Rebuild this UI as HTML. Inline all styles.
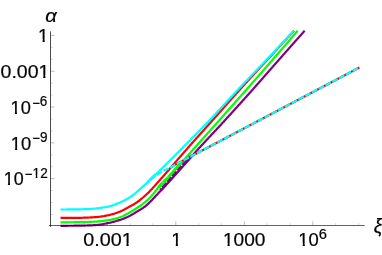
<!DOCTYPE html>
<html><head><meta charset="utf-8"><title>plot</title>
<style>
html,body{margin:0;padding:0;background:#fff;}
body{width:382px;height:255px;overflow:hidden;font-family:"Liberation Sans",sans-serif;}
svg{display:block}
</style></head><body>
<svg width="382" height="255" viewBox="0 0 382 255" style="will-change:transform">
<path d="M60.50,217.95 L61.25,217.95 L62.00,217.95 L62.75,217.95 L63.50,217.95 L64.25,217.94 L65.00,217.94 L65.75,217.94 L66.49,217.93 L67.24,217.93 L67.99,217.92 L68.74,217.92 L69.49,217.91 L70.24,217.91 L70.99,217.90 L71.74,217.89 L72.49,217.89 L73.24,217.88 L73.98,217.87 L74.73,217.86 L75.48,217.86 L76.23,217.85 L76.98,217.84 L77.73,217.83 L78.48,217.82 L79.23,217.81 L79.98,217.80 L80.72,217.79 L81.47,217.78 L82.22,217.76 L82.97,217.74 L83.72,217.72 L84.47,217.70 L85.22,217.67 L85.97,217.65 L86.72,217.62 L87.47,217.59 L88.22,217.55 L88.97,217.52 L89.72,217.48 L90.47,217.44 L91.21,217.40 L91.96,217.36 L92.71,217.31 L93.46,217.27 L94.20,217.22 L94.95,217.17 L95.69,217.12 L96.44,217.07 L97.18,217.01 L97.93,216.93 L98.67,216.85 L99.42,216.76 L100.16,216.67 L100.91,216.56 L101.65,216.45 L102.39,216.34 L103.14,216.21 L103.88,216.09 L104.62,215.95 L105.35,215.82 L106.09,215.68 L106.82,215.54 L107.55,215.39 L108.28,215.24 L109.01,215.08 L109.74,214.92 L110.47,214.74 L111.19,214.55 L111.92,214.35 L112.64,214.15 L113.37,213.93 L114.09,213.71 L114.81,213.48 L115.52,213.24 L116.23,213.00 L116.94,212.75 L117.65,212.50 L118.35,212.24 L119.05,211.97 L119.74,211.70 L120.43,211.43 L121.11,211.13 L121.79,210.82 L122.46,210.49 L123.13,210.15 L123.79,209.80 L124.45,209.45 L125.11,209.08 L125.77,208.71 L126.42,208.34 L127.08,207.97 L127.74,207.61 L128.39,207.25 L129.05,206.89 L129.72,206.54 L130.38,206.18 L131.04,205.82 L131.70,205.46 L132.36,205.10 L133.01,204.73 L133.66,204.36 L134.31,203.97 L134.94,203.58 L135.57,203.18 L136.19,202.77 L136.80,202.35 L137.41,201.92 L138.01,201.49 L138.61,201.04 L139.21,200.59 L139.80,200.13 L140.39,199.66 L140.98,199.19 L141.56,198.71 L142.14,198.23 L142.71,197.74 L143.29,197.25 L143.85,196.75 L144.42,196.25 L144.98,195.75 L145.53,195.25 L146.08,194.74 L146.63,194.24 L147.18,193.73 L147.72,193.22 L148.25,192.70 L148.79,192.18 L149.31,191.65 L149.84,191.12 L150.36,190.58 L150.88,190.04 L151.39,189.49 L151.90,188.95 L152.41,188.40 L152.92,187.84 L153.42,187.29 L153.92,186.73 L154.42,186.17 L154.92,185.61 L155.42,185.05 L155.92,184.48 L156.42,183.92 L156.92,183.36 L157.41,182.79 L157.91,182.23 L158.41,181.67 L158.91,181.11 L159.41,180.55 L159.91,179.99 L160.41,179.44 L160.91,178.88 L161.41,178.32 L161.91,177.76 L162.40,177.20 L162.90,176.64 L163.40,176.08 L163.89,175.52 L164.39,174.96 L164.88,174.39 L165.38,173.83 L165.87,173.27 L166.36,172.70 L166.85,172.14 L167.35,171.57 L167.84,171.01 L168.33,170.44 L168.82,169.88 L169.31,169.31 L169.80,168.74 L170.29,168.18 L170.78,167.61 L171.27,167.04 L171.76,166.47 L172.24,165.91 L172.73,165.34 L173.22,164.77 L173.71,164.20 L174.20,163.63 L174.69,163.06 L175.17,162.50 L175.66,161.93 L176.15,161.36 L176.64,160.79 L177.13,160.22 L177.61,159.65 L178.10,159.09 L178.59,158.52 L179.08,157.95 L179.57,157.38 L180.06,156.82 L180.55,156.25 L181.04,155.68 L181.53,155.12 L182.02,154.55 L182.51,153.99 L183.00,153.42 L183.50,152.86 L183.99,152.29 L184.48,151.73 L184.98,151.16 L185.47,150.60 L185.97,150.04 L186.46,149.48 L186.96,148.92 L187.45,148.36 L187.95,147.79 L188.45,147.23 L188.94,146.67 L189.44,146.11 L189.94,145.55 L190.43,144.99 L190.93,144.43 L191.43,143.87 L191.93,143.31 L192.43,142.75 L192.92,142.20 L193.42,141.64 L193.92,141.08 L194.42,140.52 L194.92,139.96 L195.42,139.40 L195.92,138.84 L196.42,138.29 L196.92,137.73 L197.42,137.17 L197.92,136.61 L198.42,136.05 L198.92,135.50 L199.42,134.94 L199.92,134.38 L200.42,133.82 L200.92,133.27 L201.42,132.71 L201.92,132.15 L202.42,131.59 L202.92,131.03 L203.42,130.48 L203.92,129.92 L204.42,129.36 L204.92,128.80 L205.42,128.25 L205.92,127.69 L206.42,127.13 L206.92,126.57 L207.42,126.02 L207.92,125.46 L208.42,124.90 L208.92,124.34 L209.42,123.78 L209.92,123.23 L210.42,122.67 L210.92,122.11 L211.42,121.55 L211.92,120.99 L212.41,120.43 L212.91,119.87 L213.41,119.31 L213.91,118.75 L214.41,118.20 L214.91,117.64 L215.40,117.08 L215.90,116.52 L216.40,115.96 L216.90,115.40 L217.39,114.84 L217.89,114.28 L218.39,113.71 L218.88,113.15 L219.38,112.59 L219.88,112.03 L220.37,111.47 L220.87,110.91 L221.37,110.35 L221.86,109.79 L222.36,109.23 L222.86,108.67 L223.35,108.11 L223.85,107.55 L224.35,106.99 L224.84,106.43 L225.34,105.86 L225.84,105.30 L226.33,104.74 L226.83,104.18 L227.33,103.62 L227.83,103.06 L228.32,102.50 L228.82,101.94 L229.32,101.38 L229.82,100.82 L230.31,100.26 L230.81,99.70 L231.31,99.14 L231.81,98.58 L232.30,98.02 L232.80,97.46 L233.30,96.91 L233.80,96.35 L234.30,95.79 L234.80,95.23 L235.30,94.67 L235.80,94.11 L236.30,93.56 L236.80,93.00 L237.30,92.44 L237.80,91.89 L238.30,91.33 L238.80,90.77 L239.31,90.22 L239.81,89.66 L240.31,89.10 L240.81,88.55 L241.31,87.99 L241.82,87.44 L242.32,86.88 L242.82,86.33 L243.33,85.78 L243.83,85.22 L244.34,84.67 L244.84,84.11 L245.35,83.56 L245.85,83.01 L246.36,82.45 L246.86,81.90 L247.37,81.35 L247.87,80.79 L248.38,80.24 L248.88,79.69 L249.39,79.14 L249.89,78.58 L250.40,78.03 L250.91,77.48 L251.41,76.93 L251.92,76.38 L252.43,75.82 L252.93,75.27 L253.44,74.72 L253.95,74.17 L254.45,73.62 L254.96,73.07 L255.47,72.52 L255.98,71.96 L256.48,71.41 L256.99,70.86 L257.50,70.31 L258.01,69.76 L258.51,69.21 L259.02,68.66 L259.53,68.11 L260.04,67.56 L260.54,67.01 L261.05,66.46 L261.56,65.90 L262.07,65.35 L262.57,64.80 L263.08,64.25 L263.59,63.70 L264.10,63.15 L264.61,62.60 L265.11,62.05 L265.62,61.50 L266.13,60.95 L266.64,60.40 L267.14,59.85 L267.65,59.29 L268.16,58.74 L268.67,58.19 L269.17,57.64 L269.68,57.09 L270.19,56.54 L270.70,55.99 L271.20,55.44 L271.71,54.89 L272.22,54.34 L272.73,53.79 L273.23,53.24 L273.74,52.69 L274.25,52.13 L274.76,51.58 L275.27,51.03 L275.78,50.48 L276.28,49.93 L276.79,49.38 L277.30,48.83 L277.81,48.28 L278.32,47.73 L278.83,47.18 L279.33,46.63 L279.84,46.08 L280.35,45.53 L280.86,44.98 L281.37,44.43 L281.88,43.88 L282.39,43.33 L282.89,42.78 L283.40,42.23 L283.91,41.68 L284.42,41.13 L284.93,40.59 L285.44,40.04 L285.95,39.49 L286.46,38.94 L286.97,38.39 L287.48,37.84 L287.99,37.29 L288.49,36.74 L289.00,36.19 L289.51,35.64 L290.02,35.09 L290.53,34.54 L291.04,33.99 L291.55,33.44 L292.06,32.90 L292.57,32.35 L293.08,31.80 L293.59,31.25 L294.10,30.70" fill="none" stroke="#ff0000" stroke-width="2.2" stroke-linejoin="round"/>
<path d="M60.50,222.30 L61.25,222.30 L62.00,222.30 L62.75,222.30 L63.49,222.30 L64.24,222.29 L64.99,222.29 L65.74,222.29 L66.49,222.28 L67.24,222.28 L67.99,222.27 L68.74,222.27 L69.48,222.26 L70.23,222.26 L70.98,222.25 L71.73,222.24 L72.48,222.24 L73.23,222.23 L73.98,222.22 L74.72,222.21 L75.47,222.20 L76.22,222.20 L76.97,222.19 L77.72,222.18 L78.47,222.17 L79.21,222.16 L79.96,222.15 L80.71,222.14 L81.46,222.13 L82.21,222.11 L82.96,222.10 L83.71,222.08 L84.45,222.06 L85.20,222.05 L85.95,222.02 L86.70,222.00 L87.45,221.98 L88.20,221.95 L88.95,221.92 L89.70,221.90 L90.44,221.87 L91.19,221.83 L91.94,221.80 L92.69,221.77 L93.43,221.73 L94.18,221.70 L94.93,221.66 L95.67,221.62 L96.42,221.58 L97.17,221.53 L97.91,221.47 L98.66,221.41 L99.41,221.34 L100.15,221.26 L100.90,221.18 L101.64,221.10 L102.39,221.01 L103.13,220.91 L103.88,220.81 L104.62,220.71 L105.36,220.60 L106.10,220.49 L106.84,220.38 L107.58,220.27 L108.31,220.15 L109.05,220.03 L109.79,219.90 L110.53,219.76 L111.26,219.61 L112.00,219.46 L112.74,219.30 L113.48,219.13 L114.21,218.96 L114.94,218.78 L115.67,218.59 L116.40,218.40 L117.12,218.19 L117.83,217.98 L118.55,217.77 L119.25,217.55 L119.95,217.32 L120.65,217.07 L121.34,216.80 L122.02,216.51 L122.70,216.20 L123.37,215.87 L124.04,215.53 L124.71,215.18 L125.38,214.82 L126.04,214.45 L126.70,214.08 L127.36,213.72 L128.01,213.36 L128.67,213.00 L129.33,212.64 L129.98,212.27 L130.63,211.90 L131.28,211.52 L131.92,211.14 L132.56,210.75 L133.20,210.36 L133.84,209.97 L134.48,209.57 L135.11,209.17 L135.74,208.77 L136.37,208.36 L136.99,207.95 L137.62,207.54 L138.24,207.13 L138.86,206.71 L139.49,206.28 L140.10,205.86 L140.72,205.43 L141.33,204.99 L141.94,204.55 L142.54,204.11 L143.14,203.66 L143.73,203.21 L144.32,202.75 L144.90,202.28 L145.48,201.81 L146.05,201.32 L146.61,200.83 L147.17,200.33 L147.73,199.82 L148.27,199.31 L148.81,198.79 L149.35,198.26 L149.87,197.73 L150.39,197.19 L150.90,196.65 L151.40,196.10 L151.89,195.54 L152.37,194.97 L152.86,194.40 L153.33,193.82 L153.81,193.24 L154.28,192.65 L154.74,192.06 L155.21,191.48 L155.68,190.89 L156.14,190.30 L156.61,189.71 L157.08,189.13 L157.55,188.54 L158.03,187.96 L158.51,187.39 L159.00,186.82 L159.49,186.26 L159.99,185.71 L160.50,185.16 L161.02,184.62 L161.54,184.08 L162.07,183.55 L162.60,183.02 L163.13,182.49 L163.66,181.97 L164.20,181.44 L164.72,180.91 L165.25,180.37 L165.76,179.83 L166.28,179.29 L166.79,178.74 L167.30,178.20 L167.82,177.65 L168.33,177.11 L168.84,176.56 L169.35,176.01 L169.86,175.46 L170.36,174.91 L170.87,174.36 L171.38,173.81 L171.88,173.26 L172.39,172.71 L172.89,172.15 L173.40,171.60 L173.90,171.05 L174.40,170.49 L174.91,169.94 L175.41,169.38 L175.91,168.83 L176.41,168.27 L176.91,167.71 L177.41,167.16 L177.91,166.60 L178.41,166.04 L178.91,165.48 L179.41,164.93 L179.91,164.37 L180.41,163.81 L180.90,163.25 L181.40,162.69 L181.90,162.13 L182.40,161.57 L182.89,161.01 L183.39,160.45 L183.89,159.89 L184.39,159.33 L184.88,158.77 L185.38,158.21 L185.88,157.65 L186.37,157.09 L186.87,156.53 L187.37,155.97 L187.87,155.41 L188.36,154.85 L188.86,154.29 L189.36,153.73 L189.86,153.17 L190.36,152.62 L190.86,152.06 L191.36,151.50 L191.85,150.94 L192.35,150.38 L192.85,149.83 L193.35,149.27 L193.85,148.71 L194.35,148.16 L194.85,147.60 L195.35,147.04 L195.85,146.49 L196.35,145.93 L196.85,145.37 L197.35,144.81 L197.85,144.26 L198.35,143.70 L198.85,143.14 L199.35,142.58 L199.85,142.03 L200.35,141.47 L200.85,140.91 L201.35,140.35 L201.85,139.79 L202.35,139.24 L202.85,138.68 L203.34,138.12 L203.84,137.56 L204.34,137.00 L204.84,136.44 L205.34,135.89 L205.84,135.33 L206.34,134.77 L206.84,134.21 L207.33,133.65 L207.83,133.09 L208.33,132.54 L208.83,131.98 L209.33,131.42 L209.83,130.86 L210.32,130.30 L210.82,129.74 L211.32,129.18 L211.82,128.63 L212.32,128.07 L212.81,127.51 L213.31,126.95 L213.81,126.39 L214.31,125.83 L214.81,125.27 L215.30,124.71 L215.80,124.15 L216.30,123.59 L216.80,123.04 L217.30,122.48 L217.79,121.92 L218.29,121.36 L218.79,120.80 L219.29,120.24 L219.78,119.68 L220.28,119.12 L220.78,118.56 L221.28,118.00 L221.77,117.44 L222.27,116.88 L222.77,116.33 L223.27,115.77 L223.76,115.21 L224.26,114.65 L224.76,114.09 L225.26,113.53 L225.75,112.97 L226.25,112.41 L226.75,111.85 L227.25,111.29 L227.74,110.73 L228.24,110.17 L228.74,109.61 L229.23,109.05 L229.73,108.49 L230.23,107.93 L230.73,107.37 L231.22,106.81 L231.72,106.25 L232.22,105.69 L232.71,105.13 L233.21,104.57 L233.71,104.01 L234.20,103.45 L234.70,102.89 L235.20,102.33 L235.69,101.77 L236.19,101.21 L236.69,100.65 L237.18,100.09 L237.68,99.53 L238.17,98.97 L238.67,98.41 L239.17,97.85 L239.66,97.29 L240.16,96.73 L240.65,96.17 L241.15,95.61 L241.65,95.05 L242.14,94.48 L242.64,93.92 L243.13,93.36 L243.63,92.80 L244.12,92.24 L244.62,91.68 L245.11,91.12 L245.61,90.56 L246.10,89.99 L246.60,89.43 L247.09,88.87 L247.59,88.31 L248.08,87.75 L248.58,87.19 L249.07,86.62 L249.57,86.06 L250.06,85.50 L250.56,84.94 L251.05,84.38 L251.55,83.82 L252.04,83.25 L252.54,82.69 L253.03,82.13 L253.53,81.57 L254.02,81.01 L254.51,80.44 L255.01,79.88 L255.50,79.32 L256.00,78.76 L256.49,78.19 L256.98,77.63 L257.48,77.07 L257.97,76.51 L258.47,75.94 L258.96,75.38 L259.45,74.82 L259.95,74.26 L260.44,73.69 L260.93,73.13 L261.43,72.57 L261.92,72.00 L262.41,71.44 L262.91,70.88 L263.40,70.31 L263.89,69.75 L264.39,69.19 L264.88,68.62 L265.37,68.06 L265.86,67.50 L266.36,66.93 L266.85,66.37 L267.34,65.80 L267.83,65.24 L268.33,64.68 L268.82,64.11 L269.31,63.55 L269.80,62.98 L270.29,62.42 L270.78,61.86 L271.28,61.29 L271.77,60.73 L272.26,60.16 L272.75,59.60 L273.24,59.03 L273.73,58.47 L274.22,57.90 L274.72,57.34 L275.21,56.77 L275.70,56.21 L276.19,55.64 L276.68,55.08 L277.17,54.51 L277.66,53.95 L278.15,53.38 L278.64,52.81 L279.13,52.25 L279.62,51.68 L280.11,51.12 L280.60,50.55 L281.09,49.99 L281.58,49.42 L282.07,48.85 L282.56,48.29 L283.05,47.72 L283.54,47.15 L284.03,46.59 L284.52,46.02 L285.01,45.45 L285.50,44.89 L285.99,44.32 L286.47,43.75 L286.96,43.19 L287.45,42.62 L287.94,42.05 L288.43,41.49 L288.92,40.92 L289.41,40.35 L289.90,39.79 L290.38,39.22 L290.87,38.65 L291.36,38.08 L291.85,37.52 L292.34,36.95 L292.82,36.38 L293.31,35.81 L293.80,35.24 L294.29,34.68 L294.78,34.11 L295.26,33.54 L295.75,32.97 L296.24,32.40 L296.73,31.84 L297.21,31.27 L297.70,30.70" fill="none" stroke="#00ff00" stroke-width="2.2" stroke-linejoin="round"/>
<path d="M60.50,225.80 L61.25,225.80 L62.00,225.80 L62.75,225.80 L63.50,225.80 L64.25,225.79 L65.00,225.79 L65.75,225.79 L66.50,225.78 L67.25,225.78 L68.00,225.77 L68.75,225.77 L69.50,225.76 L70.25,225.76 L71.00,225.75 L71.75,225.74 L72.50,225.74 L73.25,225.73 L73.99,225.72 L74.74,225.71 L75.49,225.71 L76.24,225.70 L76.99,225.69 L77.74,225.68 L78.49,225.67 L79.24,225.66 L79.99,225.65 L80.74,225.64 L81.49,225.63 L82.24,225.61 L82.99,225.60 L83.74,225.58 L84.49,225.56 L85.24,225.54 L85.99,225.52 L86.74,225.49 L87.49,225.47 L88.24,225.44 L88.99,225.41 L89.74,225.38 L90.49,225.35 L91.24,225.31 L91.99,225.28 L92.74,225.24 L93.49,225.20 L94.23,225.16 L94.98,225.11 L95.72,225.07 L96.47,225.02 L97.21,224.95 L97.96,224.88 L98.70,224.79 L99.44,224.69 L100.19,224.58 L100.93,224.47 L101.67,224.34 L102.41,224.21 L103.15,224.07 L103.89,223.93 L104.63,223.79 L105.36,223.64 L106.10,223.49 L106.84,223.34 L107.57,223.19 L108.30,223.04 L109.03,222.88 L109.76,222.72 L110.50,222.56 L111.23,222.39 L111.96,222.21 L112.69,222.03 L113.41,221.84 L114.14,221.64 L114.86,221.45 L115.59,221.24 L116.31,221.04 L117.03,220.82 L117.75,220.61 L118.46,220.39 L119.18,220.16 L119.89,219.94 L120.60,219.70 L121.31,219.46 L122.01,219.21 L122.72,218.95 L123.42,218.69 L124.13,218.41 L124.82,218.13 L125.52,217.84 L126.21,217.55 L126.89,217.24 L127.58,216.94 L128.25,216.62 L128.92,216.30 L129.59,215.96 L130.25,215.61 L130.90,215.25 L131.56,214.87 L132.20,214.50 L132.85,214.11 L133.50,213.72 L134.14,213.33 L134.78,212.94 L135.42,212.55 L136.06,212.16 L136.71,211.78 L137.35,211.39 L138.00,211.01 L138.65,210.63 L139.30,210.24 L139.95,209.86 L140.59,209.47 L141.23,209.07 L141.86,208.67 L142.49,208.26 L143.12,207.85 L143.73,207.43 L144.34,206.99 L144.93,206.55 L145.52,206.09 L146.10,205.62 L146.67,205.13 L147.23,204.63 L147.78,204.13 L148.33,203.61 L148.88,203.09 L149.42,202.57 L149.95,202.04 L150.49,201.52 L151.01,200.99 L151.54,200.45 L152.05,199.91 L152.57,199.36 L153.08,198.81 L153.59,198.26 L154.10,197.71 L154.61,197.16 L155.13,196.62 L155.64,196.07 L156.15,195.52 L156.67,194.98 L157.18,194.43 L157.69,193.88 L158.20,193.33 L158.71,192.79 L159.22,192.24 L159.73,191.69 L160.24,191.14 L160.75,190.59 L161.26,190.04 L161.78,189.49 L162.29,188.94 L162.80,188.39 L163.30,187.84 L163.81,187.29 L164.32,186.74 L164.83,186.19 L165.33,185.64 L165.84,185.08 L166.34,184.52 L166.84,183.97 L167.34,183.41 L167.84,182.85 L168.34,182.29 L168.84,181.73 L169.34,181.18 L169.84,180.62 L170.35,180.06 L170.85,179.50 L171.35,178.95 L171.85,178.39 L172.35,177.83 L172.85,177.27 L173.35,176.72 L173.85,176.16 L174.35,175.60 L174.85,175.04 L175.35,174.48 L175.85,173.93 L176.35,173.37 L176.86,172.81 L177.36,172.25 L177.86,171.69 L178.36,171.13 L178.86,170.58 L179.36,170.02 L179.86,169.46 L180.36,168.90 L180.86,168.34 L181.36,167.78 L181.86,167.22 L182.36,166.67 L182.86,166.11 L183.36,165.55 L183.86,164.99 L184.36,164.43 L184.86,163.88 L185.36,163.32 L185.86,162.76 L186.36,162.20 L186.86,161.64 L187.36,161.09 L187.87,160.53 L188.37,159.97 L188.87,159.41 L189.37,158.86 L189.87,158.30 L190.37,157.74 L190.88,157.19 L191.38,156.63 L191.88,156.08 L192.38,155.52 L192.89,154.96 L193.39,154.41 L193.89,153.85 L194.40,153.30 L194.90,152.74 L195.41,152.19 L195.91,151.63 L196.42,151.08 L196.92,150.53 L197.43,149.97 L197.93,149.42 L198.44,148.87 L198.94,148.31 L199.45,147.76 L199.96,147.21 L200.47,146.66 L200.97,146.11 L201.48,145.56 L201.99,145.00 L202.50,144.45 L203.01,143.90 L203.52,143.35 L204.03,142.80 L204.54,142.25 L205.05,141.70 L205.56,141.16 L206.07,140.61 L206.58,140.06 L207.09,139.51 L207.60,138.96 L208.11,138.41 L208.62,137.86 L209.13,137.32 L209.65,136.77 L210.16,136.22 L210.67,135.67 L211.18,135.12 L211.69,134.57 L212.20,134.03 L212.71,133.48 L213.23,132.93 L213.74,132.38 L214.25,131.83 L214.76,131.28 L215.27,130.74 L215.78,130.19 L216.29,129.64 L216.80,129.09 L217.31,128.54 L217.82,127.99 L218.33,127.44 L218.84,126.89 L219.35,126.34 L219.86,125.79 L220.37,125.24 L220.88,124.69 L221.39,124.14 L221.90,123.59 L222.41,123.04 L222.91,122.49 L223.42,121.94 L223.93,121.39 L224.44,120.83 L224.94,120.28 L225.45,119.73 L225.95,119.18 L226.46,118.62 L226.97,118.07 L227.47,117.51 L227.98,116.96 L228.48,116.41 L228.99,115.85 L229.49,115.30 L230.00,114.75 L230.50,114.19 L231.01,113.64 L231.51,113.08 L232.02,112.53 L232.52,111.97 L233.02,111.42 L233.53,110.86 L234.03,110.31 L234.54,109.75 L235.04,109.20 L235.54,108.64 L236.05,108.09 L236.55,107.53 L237.05,106.97 L237.55,106.42 L238.06,105.86 L238.56,105.31 L239.06,104.75 L239.57,104.19 L240.07,103.64 L240.57,103.08 L241.07,102.52 L241.57,101.97 L242.08,101.41 L242.58,100.85 L243.08,100.30 L243.58,99.74 L244.08,99.18 L244.58,98.62 L245.08,98.07 L245.58,97.51 L246.08,96.95 L246.59,96.39 L247.09,95.83 L247.59,95.28 L248.09,94.72 L248.59,94.16 L249.09,93.60 L249.59,93.04 L250.08,92.48 L250.58,91.92 L251.08,91.36 L251.58,90.80 L252.08,90.24 L252.58,89.69 L253.08,89.13 L253.58,88.57 L254.08,88.01 L254.57,87.44 L255.07,86.88 L255.57,86.32 L256.06,85.76 L256.56,85.20 L257.06,84.64 L257.55,84.08 L258.05,83.51 L258.55,82.95 L259.04,82.39 L259.54,81.83 L260.03,81.26 L260.53,80.70 L261.02,80.14 L261.52,79.58 L262.01,79.01 L262.51,78.45 L263.00,77.88 L263.49,77.32 L263.99,76.76 L264.48,76.19 L264.98,75.63 L265.47,75.07 L265.97,74.50 L266.46,73.94 L266.95,73.37 L267.45,72.81 L267.94,72.25 L268.43,71.68 L268.93,71.12 L269.42,70.56 L269.92,69.99 L270.41,69.43 L270.90,68.86 L271.40,68.30 L271.89,67.74 L272.39,67.17 L272.88,66.61 L273.38,66.05 L273.87,65.48 L274.37,64.92 L274.86,64.36 L275.36,63.79 L275.85,63.23 L276.35,62.67 L276.84,62.11 L277.34,61.54 L277.83,60.98 L278.33,60.42 L278.83,59.86 L279.32,59.30 L279.82,58.73 L280.32,58.17 L280.81,57.61 L281.31,57.05 L281.81,56.49 L282.30,55.93 L282.80,55.36 L283.30,54.80 L283.79,54.24 L284.29,53.68 L284.79,53.12 L285.28,52.56 L285.78,52.00 L286.28,51.44 L286.77,50.87 L287.27,50.31 L287.77,49.75 L288.27,49.19 L288.76,48.63 L289.26,48.07 L289.76,47.51 L290.26,46.95 L290.75,46.39 L291.25,45.83 L291.75,45.27 L292.25,44.70 L292.74,44.14 L293.24,43.58 L293.74,43.02 L294.24,42.46 L294.73,41.90 L295.23,41.34 L295.73,40.78 L296.23,40.22 L296.73,39.66 L297.22,39.10 L297.72,38.54 L298.22,37.98 L298.72,37.42 L299.22,36.86 L299.72,36.30 L300.21,35.74 L300.71,35.18 L301.21,34.62 L301.71,34.06 L302.21,33.50 L302.71,32.94 L303.20,32.38 L303.70,31.82 L304.20,31.26 L304.70,30.70" fill="none" stroke="#800080" stroke-width="2.2" stroke-linejoin="round"/>
<path d="M60.50,209.50 L61.25,209.50 L62.00,209.50 L62.75,209.50 L63.49,209.49 L64.24,209.49 L64.99,209.49 L65.74,209.48 L66.49,209.48 L67.24,209.47 L67.99,209.46 L68.73,209.46 L69.48,209.45 L70.23,209.44 L70.98,209.43 L71.73,209.42 L72.48,209.41 L73.23,209.40 L73.97,209.39 L74.72,209.38 L75.47,209.37 L76.22,209.36 L76.97,209.35 L77.72,209.34 L78.46,209.32 L79.21,209.31 L79.96,209.30 L80.71,209.29 L81.46,209.27 L82.21,209.26 L82.96,209.24 L83.70,209.22 L84.45,209.20 L85.20,209.18 L85.95,209.16 L86.70,209.13 L87.45,209.11 L88.19,209.08 L88.94,209.05 L89.69,209.01 L90.43,208.98 L91.18,208.93 L91.93,208.87 L92.67,208.81 L93.42,208.74 L94.16,208.66 L94.91,208.57 L95.65,208.48 L96.39,208.38 L97.14,208.29 L97.88,208.19 L98.62,208.09 L99.36,207.99 L100.10,207.89 L100.85,207.79 L101.59,207.68 L102.33,207.58 L103.08,207.47 L103.82,207.35 L104.56,207.23 L105.30,207.11 L106.04,206.98 L106.78,206.85 L107.51,206.70 L108.24,206.55 L108.97,206.40 L109.69,206.23 L110.41,206.05 L111.13,205.85 L111.85,205.64 L112.56,205.41 L113.27,205.17 L113.98,204.92 L114.69,204.66 L115.39,204.40 L116.10,204.12 L116.79,203.84 L117.49,203.56 L118.18,203.28 L118.87,202.99 L119.56,202.70 L120.24,202.40 L120.92,202.09 L121.60,201.78 L122.27,201.45 L122.95,201.12 L123.62,200.78 L124.29,200.43 L124.95,200.08 L125.61,199.72 L126.27,199.36 L126.92,198.99 L127.57,198.62 L128.22,198.25 L128.86,197.87 L129.49,197.47 L130.13,197.07 L130.75,196.66 L131.37,196.23 L131.98,195.80 L132.59,195.36 L133.18,194.92 L133.78,194.46 L134.36,194.00 L134.95,193.53 L135.53,193.05 L136.10,192.57 L136.67,192.09 L137.24,191.60 L137.81,191.11 L138.38,190.62 L138.94,190.12 L139.50,189.63 L140.07,189.14 L140.63,188.65 L141.19,188.15 L141.75,187.65 L142.31,187.16 L142.86,186.65 L143.42,186.15 L143.97,185.65 L144.52,185.14 L145.07,184.63 L145.62,184.12 L146.17,183.61 L146.72,183.10 L147.26,182.59 L147.81,182.07 L148.35,181.56 L148.90,181.04 L149.44,180.53 L149.98,180.02 L150.53,179.50 L151.07,178.99 L151.61,178.47 L152.15,177.95 L152.69,177.44 L153.23,176.92 L153.77,176.40 L154.31,175.88 L154.85,175.36 L155.39,174.84 L155.93,174.32 L156.46,173.80 L157.00,173.28 L157.54,172.76 L158.07,172.23 L158.61,171.71 L159.14,171.19 L159.68,170.67 L160.21,170.14 L160.75,169.62 L161.28,169.09 L161.81,168.57 L162.35,168.04 L162.88,167.51 L163.41,166.99 L163.94,166.46 L164.48,165.94 L165.01,165.41 L165.54,164.88 L166.07,164.35 L166.60,163.82 L167.13,163.30 L167.66,162.77 L168.19,162.24 L168.72,161.71 L169.25,161.18 L169.78,160.65 L170.31,160.12 L170.84,159.59 L171.37,159.06 L171.90,158.53 L172.43,158.00 L172.96,157.47 L173.48,156.94 L174.01,156.41 L174.54,155.88 L175.07,155.35 L175.60,154.82 L176.13,154.29 L176.65,153.76 L177.18,153.23 L177.71,152.70 L178.24,152.17 L178.77,151.64 L179.30,151.11 L179.82,150.58 L180.35,150.05 L180.88,149.52 L181.41,148.99 L181.94,148.46 L182.46,147.93 L182.99,147.40 L183.52,146.87 L184.05,146.34 L184.58,145.80 L185.10,145.27 L185.63,144.74 L186.16,144.21 L186.69,143.68 L187.21,143.15 L187.74,142.62 L188.27,142.09 L188.79,141.55 L189.32,141.02 L189.85,140.49 L190.37,139.96 L190.90,139.42 L191.43,138.89 L191.95,138.36 L192.48,137.83 L193.00,137.29 L193.53,136.76 L194.05,136.23 L194.58,135.69 L195.10,135.16 L195.63,134.62 L196.15,134.09 L196.68,133.56 L197.20,133.02 L197.72,132.49 L198.25,131.95 L198.77,131.42 L199.29,130.88 L199.82,130.34 L200.34,129.81 L200.86,129.27 L201.38,128.73 L201.90,128.20 L202.43,127.66 L202.95,127.12 L203.47,126.59 L203.99,126.05 L204.51,125.51 L205.03,124.97 L205.55,124.43 L206.07,123.89 L206.59,123.35 L207.10,122.81 L207.62,122.28 L208.14,121.73 L208.66,121.19 L209.18,120.65 L209.69,120.11 L210.21,119.57 L210.72,119.03 L211.24,118.49 L211.75,117.94 L212.27,117.40 L212.78,116.86 L213.30,116.31 L213.81,115.77 L214.32,115.22 L214.83,114.67 L215.34,114.13 L215.85,113.58 L216.37,113.03 L216.88,112.48 L217.39,111.94 L217.89,111.39 L218.40,110.84 L218.91,110.29 L219.42,109.74 L219.93,109.19 L220.44,108.64 L220.95,108.09 L221.45,107.54 L221.96,106.99 L222.47,106.44 L222.98,105.89 L223.48,105.34 L223.99,104.79 L224.50,104.24 L225.00,103.69 L225.51,103.14 L226.02,102.59 L226.53,102.04 L227.03,101.49 L227.54,100.94 L228.05,100.39 L228.55,99.83 L229.06,99.28 L229.57,98.73 L230.08,98.18 L230.59,97.63 L231.09,97.09 L231.60,96.54 L232.11,95.99 L232.62,95.44 L233.13,94.89 L233.64,94.34 L234.15,93.79 L234.66,93.25 L235.17,92.70 L235.68,92.15 L236.19,91.60 L236.70,91.06 L237.22,90.51 L237.73,89.97 L238.24,89.42 L238.76,88.88 L239.27,88.33 L239.79,87.79 L240.30,87.25 L240.81,86.70 L241.33,86.16 L241.84,85.62 L242.36,85.07 L242.88,84.53 L243.39,83.99 L243.91,83.45 L244.42,82.91 L244.94,82.36 L245.46,81.82 L245.97,81.28 L246.49,80.74 L247.01,80.20 L247.52,79.66 L248.04,79.12 L248.56,78.58 L249.08,78.03 L249.59,77.49 L250.11,76.95 L250.63,76.41 L251.15,75.87 L251.67,75.33 L252.18,74.79 L252.70,74.25 L253.22,73.71 L253.74,73.17 L254.26,72.63 L254.77,72.09 L255.29,71.55 L255.81,71.01 L256.33,70.47 L256.84,69.93 L257.36,69.39 L257.88,68.84 L258.40,68.30 L258.91,67.76 L259.43,67.22 L259.95,66.68 L260.46,66.14 L260.98,65.60 L261.50,65.06 L262.01,64.51 L262.53,63.97 L263.05,63.43 L263.56,62.89 L264.08,62.34 L264.59,61.80 L265.11,61.26 L265.62,60.71 L266.14,60.17 L266.65,59.63 L267.17,59.08 L267.68,58.54 L268.19,58.00 L268.71,57.45 L269.22,56.91 L269.74,56.36 L270.25,55.82 L270.76,55.27 L271.28,54.73 L271.79,54.19 L272.30,53.64 L272.82,53.10 L273.33,52.55 L273.84,52.01 L274.36,51.46 L274.87,50.92 L275.38,50.37 L275.90,49.83 L276.41,49.28 L276.92,48.74 L277.44,48.19 L277.95,47.65 L278.46,47.10 L278.97,46.55 L279.49,46.01 L280.00,45.46 L280.51,44.92 L281.02,44.37 L281.53,43.83 L282.05,43.28 L282.56,42.73 L283.07,42.19 L283.58,41.64 L284.09,41.09 L284.60,40.55 L285.12,40.00 L285.63,39.45 L286.14,38.91 L286.65,38.36 L287.16,37.81 L287.67,37.27 L288.18,36.72 L288.69,36.17 L289.21,35.63 L289.72,35.08 L290.23,34.53 L290.74,33.99 L291.25,33.44 L291.76,32.89 L292.27,32.34 L292.78,31.80 L293.29,31.25 L293.80,30.70" fill="none" stroke="#00ffff" stroke-width="2.2" stroke-linejoin="round"/>
<path d="M158.66,187.51 L159.15,186.94 L159.64,186.38 L160.14,185.83 L160.65,185.28 L161.17,184.74 L161.69,184.20 L162.22,183.67 L162.75,183.14 L163.28,182.61 L163.81,182.09 L164.35,181.56 L164.87,181.03 L165.40,180.49 L165.91,179.95 L166.43,179.41 L166.94,178.86 L167.45,178.32 L167.97,177.77 L168.48,177.23 L168.99,176.68 L169.50,176.13 L170.01,175.58 L170.51,175.03 L171.02,174.48 L171.53,173.93 L172.03,173.38 L172.54,172.83 L173.04,172.27 L173.55,171.72 L174.05,171.17 L174.55,170.61 L175.06,170.06 L175.56,169.50 L176.06,168.95 L176.56,168.39 L177.06,167.83 L177.56,167.28 L178.06,166.72 L178.56,166.16 L179.06,165.60 L179.56,165.05 L180.06,164.49 L180.56,163.93 L181.05,163.37 L181.55,162.81 L182.05,162.25 L182.55,161.69 L183.04,161.13" fill="none" stroke="#00ff00" stroke-width="3.35"/>
<path d="M160.45,190.33 L160.96,189.78 L161.48,189.23 L161.99,188.68 L162.50,188.13 L163.00,187.58 L163.51,187.03 L164.02,186.48 L164.53,185.93 L165.03,185.38 L165.54,184.82 L166.04,184.26 L166.54,183.71 L167.04,183.15 L167.54,182.59 L168.04,182.03 L168.54,181.47 L169.04,180.92 L169.54,180.36 L170.05,179.80 L170.55,179.24 L171.05,178.69 L171.55,178.13 L172.05,177.57 L172.55,177.01 L173.05,176.46 L173.55,175.90 L174.05,175.34 L174.55,174.78 L175.05,174.22 L175.55,173.67 L176.05,173.11 L176.56,172.55 L177.06,171.99 L177.56,171.43 L178.06,170.87 L178.56,170.32 L179.06,169.76 L179.56,169.20 L180.06,168.64 L180.56,168.08 L181.06,167.52 L181.56,166.96 L182.06,166.41 L182.56,165.85 L183.06,165.29 L183.56,164.73 L184.06,164.17 L184.56,163.62 L185.06,163.06 L185.56,162.50 L186.06,161.94 L186.56,161.38 L187.06,160.83 L187.57,160.27 L188.07,159.71 L188.57,159.15 L189.07,158.60 L189.57,158.04 L190.07,157.48 L190.58,156.93 L191.08,156.37 L191.58,155.82 L192.08,155.26" fill="none" stroke="#800080" stroke-width="3.2"/>
<path d="M147.81,182.07 L148.35,181.56 L148.90,181.04 L149.44,180.53 L149.98,180.02 L150.53,179.50 L151.07,178.99 L151.61,178.47 L152.15,177.95 L152.69,177.44 L153.23,176.92 L153.77,176.40 L154.31,175.88 L154.85,175.36 L155.39,174.84 L155.93,174.32" fill="none" stroke="#00ffff" stroke-width="3.1"/>
<line x1="170.4" y1="167.27" x2="359.4" y2="67.48" stroke="#ff0000" stroke-width="2.2"/>
<path d="M358.6,67.9 L155.8,174.98" fill="none" stroke="#00ffff" stroke-width="2.3000000000000003" stroke-dasharray="6.05 1.595" stroke-dashoffset="6.85"/>
<circle cx="161.3" cy="187.6" r="0.7" fill="#fff"/>
<circle cx="166.5" cy="181.9" r="0.75" fill="#fff"/>
<circle cx="171.5" cy="176.5" r="0.75" fill="#fff"/>
<circle cx="176.7" cy="170.7" r="0.75" fill="#fff"/>
<circle cx="181.6" cy="165.3" r="0.75" fill="#fff"/>
<circle cx="156.5" cy="175.8" r="0.6" fill="#fff"/>
<circle cx="150.1" cy="181.0" r="0.6" fill="#fff"/>
<circle cx="163.0" cy="182.5" r="0.5" fill="#fff"/>
<circle cx="167.8" cy="177.0" r="0.5" fill="#fff"/>
<circle cx="162.6" cy="171.5" r="0.7" fill="#fff"/>
<line x1="50.5" y1="31.4" x2="50.5" y2="226.9" stroke="#000" stroke-opacity="0.7" stroke-width="1"/>
<line x1="49.1" y1="225.5" x2="364.7" y2="225.5" stroke="#000" stroke-opacity="0.62" stroke-width="1"/>
<line x1="51.0" y1="35.40" x2="54.5" y2="35.40" stroke="#000" stroke-opacity="0.34" stroke-width="0.8"/>
<line x1="51.0" y1="47.34" x2="53.0" y2="47.34" stroke="#000" stroke-opacity="0.2" stroke-width="0.8"/>
<line x1="51.0" y1="59.28" x2="53.0" y2="59.28" stroke="#000" stroke-opacity="0.2" stroke-width="0.8"/>
<line x1="51.0" y1="71.22" x2="54.5" y2="71.22" stroke="#000" stroke-opacity="0.34" stroke-width="0.8"/>
<line x1="51.0" y1="83.16" x2="53.0" y2="83.16" stroke="#000" stroke-opacity="0.2" stroke-width="0.8"/>
<line x1="51.0" y1="95.10" x2="53.0" y2="95.10" stroke="#000" stroke-opacity="0.2" stroke-width="0.8"/>
<line x1="51.0" y1="107.04" x2="54.5" y2="107.04" stroke="#000" stroke-opacity="0.34" stroke-width="0.8"/>
<line x1="51.0" y1="118.98" x2="53.0" y2="118.98" stroke="#000" stroke-opacity="0.2" stroke-width="0.8"/>
<line x1="51.0" y1="130.92" x2="53.0" y2="130.92" stroke="#000" stroke-opacity="0.2" stroke-width="0.8"/>
<line x1="51.0" y1="142.86" x2="54.5" y2="142.86" stroke="#000" stroke-opacity="0.34" stroke-width="0.8"/>
<line x1="51.0" y1="154.80" x2="53.0" y2="154.80" stroke="#000" stroke-opacity="0.2" stroke-width="0.8"/>
<line x1="51.0" y1="166.74" x2="53.0" y2="166.74" stroke="#000" stroke-opacity="0.2" stroke-width="0.8"/>
<line x1="51.0" y1="178.68" x2="54.5" y2="178.68" stroke="#000" stroke-opacity="0.34" stroke-width="0.8"/>
<line x1="51.0" y1="190.62" x2="53.0" y2="190.62" stroke="#000" stroke-opacity="0.2" stroke-width="0.8"/>
<line x1="51.0" y1="202.56" x2="53.0" y2="202.56" stroke="#000" stroke-opacity="0.2" stroke-width="0.8"/>
<line x1="51.0" y1="214.50" x2="53.0" y2="214.50" stroke="#000" stroke-opacity="0.2" stroke-width="0.8"/>
<line x1="84.35" y1="225.0" x2="84.35" y2="223.0" stroke="#000" stroke-opacity="0.2" stroke-width="0.8"/>
<line x1="107.20" y1="225.0" x2="107.20" y2="221.4" stroke="#000" stroke-opacity="0.34" stroke-width="0.8"/>
<line x1="130.05" y1="225.0" x2="130.05" y2="223.0" stroke="#000" stroke-opacity="0.2" stroke-width="0.8"/>
<line x1="152.90" y1="225.0" x2="152.90" y2="223.0" stroke="#000" stroke-opacity="0.2" stroke-width="0.8"/>
<line x1="175.75" y1="225.0" x2="175.75" y2="221.4" stroke="#000" stroke-opacity="0.34" stroke-width="0.8"/>
<line x1="198.60" y1="225.0" x2="198.60" y2="223.0" stroke="#000" stroke-opacity="0.2" stroke-width="0.8"/>
<line x1="221.45" y1="225.0" x2="221.45" y2="223.0" stroke="#000" stroke-opacity="0.2" stroke-width="0.8"/>
<line x1="244.30" y1="225.0" x2="244.30" y2="221.4" stroke="#000" stroke-opacity="0.34" stroke-width="0.8"/>
<line x1="267.15" y1="225.0" x2="267.15" y2="223.0" stroke="#000" stroke-opacity="0.2" stroke-width="0.8"/>
<line x1="290.00" y1="225.0" x2="290.00" y2="223.0" stroke="#000" stroke-opacity="0.2" stroke-width="0.8"/>
<line x1="312.85" y1="225.0" x2="312.85" y2="221.4" stroke="#000" stroke-opacity="0.34" stroke-width="0.8"/>
<line x1="335.70" y1="225.0" x2="335.70" y2="223.0" stroke="#000" stroke-opacity="0.2" stroke-width="0.8"/>
<line x1="358.55" y1="225.0" x2="358.55" y2="223.0" stroke="#000" stroke-opacity="0.2" stroke-width="0.8"/>
<g>
<text transform="translate(38.04,41.60) scale(1.0000,1)" font-family="Liberation Sans, sans-serif" font-size="19"  fill="#000" stroke="#000" stroke-width="0.2">1</text>
<text transform="translate(0.54,77.60) scale(1.0282,1)" font-family="Liberation Sans, sans-serif" font-size="19"  fill="#000" stroke="#000" stroke-width="0.2">0.001</text>
<text transform="translate(10.55,113.90) scale(0.9588,1)" font-family="Liberation Sans, sans-serif" font-size="19"  fill="#000" stroke="#000" stroke-width="0.2">10</text>
<text transform="translate(32.16,107.60) scale(0.9300,1)" font-family="Liberation Sans, sans-serif" font-size="14.0"  fill="#000" stroke="#000" stroke-width="0.2">−</text>
<text transform="translate(39.84,106.15) scale(0.9700,1)" font-family="Liberation Sans, sans-serif" font-size="14.0"  fill="#000" stroke="#000" stroke-width="0.2">6</text>
<text transform="translate(10.74,149.70) scale(0.9642,1)" font-family="Liberation Sans, sans-serif" font-size="19"  fill="#000" stroke="#000" stroke-width="0.2">10</text>
<text transform="translate(32.36,143.40) scale(0.9300,1)" font-family="Liberation Sans, sans-serif" font-size="14.0"  fill="#000" stroke="#000" stroke-width="0.2">−</text>
<text transform="translate(39.99,141.95) scale(0.9700,1)" font-family="Liberation Sans, sans-serif" font-size="14.0"  fill="#000" stroke="#000" stroke-width="0.2">9</text>
<text transform="translate(3.68,185.30) scale(0.9427,1)" font-family="Liberation Sans, sans-serif" font-size="19"  fill="#000" stroke="#000" stroke-width="0.2">10</text>
<text transform="translate(24.86,179.00) scale(0.9300,1)" font-family="Liberation Sans, sans-serif" font-size="14.0"  fill="#000" stroke="#000" stroke-width="0.2">−</text>
<text transform="translate(32.58,177.55) scale(0.9700,1)" font-family="Liberation Sans, sans-serif" font-size="14.0"  fill="#000" stroke="#000" stroke-width="0.2">12</text>
<text transform="translate(83.23,245.65) scale(1.0400,1)" font-family="Liberation Sans, sans-serif" font-size="19"  fill="#000" stroke="#000" stroke-width="0.2">0.001</text>
<text transform="translate(171.24,245.65) scale(1.0000,1)" font-family="Liberation Sans, sans-serif" font-size="19"  fill="#000" stroke="#000" stroke-width="0.2">1</text>
<text transform="translate(222.96,245.65) scale(1.0051,1)" font-family="Liberation Sans, sans-serif" font-size="19"  fill="#000" stroke="#000" stroke-width="0.2">1000</text>
<text transform="translate(298.33,245.65) scale(0.9696,1)" font-family="Liberation Sans, sans-serif" font-size="19"  fill="#000" stroke="#000" stroke-width="0.2">10</text>
<text transform="translate(318.85,238.85) scale(1.0526,1)" font-family="Liberation Sans, sans-serif" font-size="14.0"  fill="#000" stroke="#000" stroke-width="0.2">6</text>
<text transform="translate(45.20,22.00) scale(1.1318,1)" font-family="Liberation Sans, sans-serif" font-size="18" font-style="italic" fill="#000" stroke="#000" stroke-width="0.2">α</text>
<text transform="translate(373.68,232.90) scale(1.0000,1)" font-family="Liberation Sans, sans-serif" font-size="19.5" font-style="italic" fill="#000" stroke="#000" stroke-width="0.2">ξ</text>
<rect x="38.59" y="39.18" width="3.98" height="3.22" fill="#fff"/>
<rect x="44.75" y="39.18" width="3.93" height="3.22" fill="#fff"/>
<rect x="39.15" y="75.18" width="4.07" height="3.22" fill="#fff"/>
<rect x="45.45" y="75.18" width="4.02" height="3.22" fill="#fff"/>
<rect x="11.04" y="111.48" width="3.84" height="3.22" fill="#fff"/>
<rect x="16.99" y="111.48" width="3.80" height="3.22" fill="#fff"/>
<rect x="11.23" y="147.28" width="3.86" height="3.22" fill="#fff"/>
<rect x="17.21" y="147.28" width="3.82" height="3.22" fill="#fff"/>
<rect x="4.14" y="182.88" width="3.79" height="3.22" fill="#fff"/>
<rect x="10.01" y="182.88" width="3.75" height="3.22" fill="#fff"/>
<rect x="32.71" y="175.50" width="3.03" height="2.85" fill="#fff"/>
<rect x="37.44" y="175.50" width="2.47" height="2.85" fill="#fff"/>
<rect x="122.29" y="243.23" width="4.11" height="3.22" fill="#fff"/>
<rect x="128.65" y="243.23" width="4.06" height="3.22" fill="#fff"/>
<rect x="171.79" y="243.23" width="3.98" height="3.22" fill="#fff"/>
<rect x="177.95" y="243.23" width="3.93" height="3.22" fill="#fff"/>
<rect x="223.52" y="243.23" width="4.00" height="3.22" fill="#fff"/>
<rect x="229.70" y="243.23" width="3.95" height="3.22" fill="#fff"/>
<rect x="298.83" y="243.23" width="3.88" height="3.22" fill="#fff"/>
<rect x="304.84" y="243.23" width="3.84" height="3.22" fill="#fff"/>
</g>
</svg>
</body></html>
